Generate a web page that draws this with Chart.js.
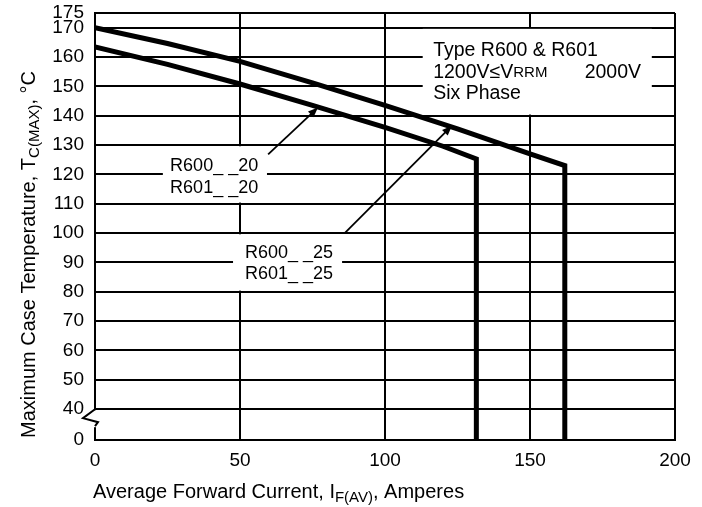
<!DOCTYPE html>
<html>
<head>
<meta charset="utf-8">
<script src="https://cdn.jsdelivr.net/npm/chart.js@4.4.1/dist/chart.umd.min.js"></script>
<style>
  html, body { margin: 0; padding: 0; background: #fff; }
</style>
</head>
<body>
<canvas id="chart" width="702" height="507"></canvas>
<script>
// R600__25 / R601__25 : upper curve, cut off at ~162 A
const current25 = [0, 25, 50, 75, 100, 125, 150, 162, 162];
const temp25 = [170, 164.6, 158.5, 151.2, 143.5, 135.5, 127, 123, 0];

// R600__20 / R601__20 : lower curve, cut off at ~131.5 A
const current20 = [0, 25, 50, 75, 100, 120, 131.5, 131.5];
const temp20 = [163.4, 157.5, 150.8, 143.5, 136, 129.6, 125.3, 0];

const xTicks = [0, 50, 100, 150, 200];
const yTicks = [0, 40, 50, 60, 70, 80, 90, 100, 110, 120, 130, 140, 150, 160, 170, 175];

// the axis is broken between 40 and 0, so 0 is drawn just under 40
const AXIS_ZERO = 29.5;
const toAxis = v => (v < 40 ? AXIS_ZERO : v);

const FONT = '"Liberation Sans", Arial, sans-serif';

function points(xs, ys) {
    return xs.map((x, i) => ({ x: x, y: toAxis(ys[i]) }));
}

function drawParts(ctx, parts, x, y) {
    parts.forEach(p => {
        ctx.font = p.font;
        ctx.fillText(p.text, x, y + (p.dy || 0));
        x += ctx.measureText(p.text).width;
    });
}

function arrow(ctx, x1, y1, x2, y2) {
    const a = Math.atan2(y2 - y1, x2 - x1);
    ctx.beginPath();
    ctx.moveTo(x1, y1);
    ctx.lineTo(x2 - 6 * Math.cos(a), y2 - 6 * Math.sin(a));
    ctx.stroke();
    ctx.beginPath();
    ctx.moveTo(x2, y2);
    ctx.lineTo(x2 - 10 * Math.cos(a) + 4 * Math.sin(a), y2 - 10 * Math.sin(a) - 4 * Math.cos(a));
    ctx.lineTo(x2 - 10 * Math.cos(a) - 4 * Math.sin(a), y2 - 10 * Math.sin(a) + 4 * Math.cos(a));
    ctx.closePath();
    ctx.fill();
}

const overlay = {
    id: 'overlay',
    beforeDatasetsDraw(chart) {
        const { ctx, scales: { x, y } } = chart;
        ctx.save();
        ctx.fillStyle = '#fff';
        // gaps in the grid behind the labels
        const box = (x1, x2, y1, y2) => {
            const l = x.getPixelForValue(x1), r = x.getPixelForValue(x2);
            const t = y.getPixelForValue(y2), b = y.getPixelForValue(y1);
            ctx.fillRect(l, t, r - l, b - t);
        };
        box(23.4, 59.3, 110.4, 129.6);
        box(47.6, 85.2, 80.4, 99.6);
        box(113, 192, 140.4, 169.6);

        // axis break
        const ax = x.getPixelForValue(0);
        const y40 = y.getPixelForValue(40);
        ctx.fillRect(ax - 3, y40 + 1, 6, 17);
        ctx.strokeStyle = '#000';
        ctx.lineWidth = 2;
        ctx.beginPath();
        ctx.moveTo(ax, y40);
        ctx.lineTo(ax - 12, y40 + 9);
        ctx.lineTo(ax + 3, y40 + 13);
        ctx.lineTo(ax, y40 + 17);
        ctx.stroke();
        ctx.restore();
    },
    afterDatasetsDraw(chart) {
        const { ctx, scales: { x, y } } = chart;
        const px = v => x.getPixelForValue(v);
        const py = v => y.getPixelForValue(v);
        ctx.save();
        ctx.fillStyle = '#000';
        ctx.strokeStyle = '#000';
        ctx.lineWidth = 1.8;
        arrow(ctx, px(59.7), py(126.8), px(76.9), py(142.8));
        arrow(ctx, px(86.2), py(100.1), px(123.1), py(136.6));

        ctx.textAlign = 'left';
        ctx.textBaseline = 'middle';
        ctx.font = '18px ' + FONT;
        ctx.fillText('R600_ _20', px(25.9), py(122.7));
        ctx.fillText('R601_ _20', px(25.9), py(115.2));
        ctx.fillText('R600_ _25', px(51.7), py(93.3));
        ctx.fillText('R601_ _25', px(51.7), py(86.2));

        ctx.font = '19.5px ' + FONT;
        ctx.fillText('Type R600 & R601', px(116.6), py(162.3));
        drawParts(ctx, [
            { text: '1200V\u2264V', font: '19.5px ' + FONT },
            { text: 'RRM', font: '15px ' + FONT, dy: 1 }
        ], px(116.6), py(154.8));
        ctx.font = '19.5px ' + FONT;
        ctx.textAlign = 'right';
        ctx.fillText('2000V', px(188.3), py(154.8));
        ctx.textAlign = 'left';
        ctx.fillText('Six Phase', px(116.6), py(147.6));
        ctx.restore();
    },
    afterDraw(chart) {
        const { ctx } = chart;
        ctx.save();
        ctx.fillStyle = '#000';
        ctx.textAlign = 'left';
        ctx.textBaseline = 'alphabetic';
        drawParts(ctx, [
            { text: 'Average Forward Current, I', font: '20px ' + FONT },
            { text: 'F(AV)', font: '15px ' + FONT, dy: 4 },
            { text: ', Amperes', font: '20px ' + FONT }
        ], 93, 498);

        ctx.translate(35, 438);
        ctx.rotate(-Math.PI / 2);
        drawParts(ctx, [
            { text: 'Maximum Case Temperature, T', font: '20px ' + FONT },
            { text: 'C(MAX)', font: '15px ' + FONT, dy: 4 },
            { text: ', \u00B0C', font: '20px ' + FONT }
        ], 0, 0);
        ctx.restore();
    }
};

const lineStyle = {
    borderColor: '#000',
    borderWidth: 5,
    pointRadius: 0,
    showLine: true,
    tension: 0,
    borderJoinStyle: 'miter',
    fill: false
};

new Chart(document.getElementById('chart'), {
    type: 'scatter',
    data: {
        datasets: [
            Object.assign({ label: 'R600__25', data: points(current25, temp25) }, lineStyle),
            Object.assign({ label: 'R600__20', data: points(current20, temp20) }, lineStyle)
        ]
    },
    options: {
        responsive: false,
        animation: false,
        devicePixelRatio: 1,
        layout: { padding: { top: 13, right: 27, left: 0, bottom: 0 } },
        plugins: {
            legend: { display: false },
            tooltip: { enabled: false }
        },
        scales: {
            x: {
                type: 'linear',
                min: 0,
                max: 200,
                afterBuildTicks: s => { s.ticks = xTicks.map(v => ({ value: v })); },
                afterFit: s => {
                    s.height = 67;
                    s.paddingLeft = 0;
                    s.paddingRight = 0;
                },
                grid: { color: '#000', lineWidth: 2, drawTicks: false },
                border: { color: '#000', width: 2 },
                ticks: {
                    color: '#000',
                    font: { family: FONT, size: 19 },
                    padding: 9,
                    maxRotation: 0,
                    autoSkip: false
                }
            },
            y: {
                type: 'linear',
                min: AXIS_ZERO,
                max: 175,
                afterBuildTicks: s => { s.ticks = yTicks.map(v => ({ value: toAxis(v) })); },
                afterFit: s => {
                    s.width = 95;
                    s.paddingTop = 0;
                    s.paddingBottom = 0;
                },
                grid: { color: '#000', lineWidth: 2, drawTicks: false },
                border: { color: '#000', width: 2 },
                ticks: {
                    color: '#000',
                    font: { family: FONT, size: 19 },
                    padding: 11,
                    autoSkip: false,
                    callback: v => (v === AXIS_ZERO ? '0' : v)
                }
            }
        }
    },
    plugins: [overlay]
});
</script>
</body>
</html>
